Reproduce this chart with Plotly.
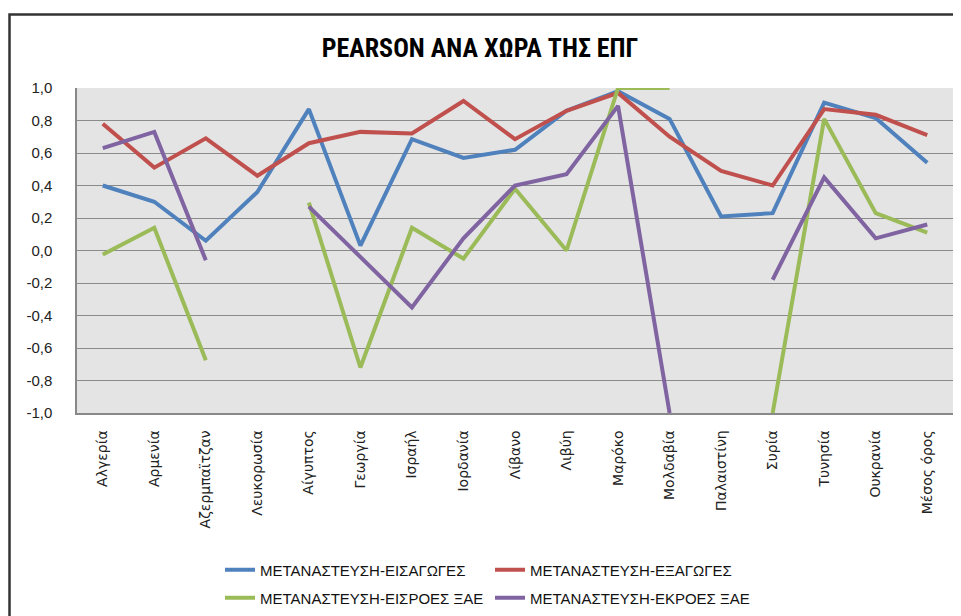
import plotly.graph_objects as go

countries = ["Αλγερία", "Αρμενία", "Αζερμπαϊτζαν", "Λευκορωσία", "Αίγυπτος", "Γεωργία",
             "Ισραήλ", "Ιορδανία", "Λίβανο", "Λιβύη", "Μαρόκο", "Μολδαβία",
             "Παλαιστίνη", "Συρία", "Τυνησία", "Ουκρανία", "Μέσος όρος"]

eisagoges = [0.40, 0.30, 0.06, 0.36, 0.87, 0.03, 0.685, 0.57, 0.62, 0.86, 0.98, 0.81,
             0.21, 0.23, 0.91, 0.815, 0.54]
exagoges = [0.78, 0.51, 0.69, 0.46, 0.66, 0.73, 0.72, 0.92, 0.685, 0.86, 0.97, 0.70,
            0.49, 0.40, 0.87, 0.835, 0.71]
eisroes = [-0.025, 0.14, -0.675, None, 0.295, -0.72, 0.14, -0.05, 0.38, 0.0, 1.0, 1.0,
           None, -1.0, 0.81, 0.23, 0.11]
ekroes = [0.63, 0.73, -0.06, None, 0.27, -0.04, -0.35, 0.075, 0.40, 0.47, 0.89, -1.0,
          None, -0.18, 0.45, 0.075, 0.16]

series_names = ["ΜΕΤΑΝΑΣΤΕΥΣΗ-ΕΙΣΑΓΩΓΕΣ", "ΜΕΤΑΝΑΣΤΕΥΣΗ-ΕΞΑΓΩΓΕΣ",
                "ΜΕΤΑΝΑΣΤΕΥΣΗ-ΕΙΣΡΟΕΣ ΞΑΕ", "ΜΕΤΑΝΑΣΤΕΥΣΗ-ΕΚΡΟΕΣ ΞΑΕ"]
series_vals = [eisagoges, exagoges, eisroes, ekroes]
colors = ["#4F81BD", "#C0504D", "#9BBB59", "#8064A2"]
legends = ["legend", "legend", "legend2", "legend2"]

y_ticks = [1.0, 0.8, 0.6, 0.4, 0.2, 0.0, -0.2, -0.4, -0.6, -0.8, -1.0]
y_labels = ["1,0", "0,8", "0,6", "0,4", "0,2", "0,0", "-0,2", "-0,4", "-0,6", "-0,8", "-1,0"]

fig = go.Figure()
for name, vals, col, lg in zip(series_names, series_vals, colors, legends):
    fig.add_trace(go.Scatter(x=countries, y=vals, name=name, mode="lines",
                             line=dict(color=col, width=4), connectgaps=False,
                             legend=lg))

# page body has an 8px margin, so the figure is drawn 8px smaller and offset
OFF = 8
W, H = 961 - OFF, 616 - OFF
L, R, T, B = 77 - OFF, 961 - 953, 88 - OFF, 616 - 413
pw, ph = W - L - R, H - T - B


def px(x):
    return (x - OFF - L) / pw


def py(y):
    return (H - B - (y - OFF)) / ph


def cx(x):
    return (x - OFF) / W


def cy(y):
    return 1 - (y - OFF) / H


legend_style = dict(orientation="h", xanchor="left", yanchor="middle",
                    xref="container", yref="container",
                    entrywidth=225, font=dict(family="Liberation Sans, sans-serif",
                                              size=15, color="#111"),
                    bgcolor="rgba(0,0,0,0)", itemwidth=30, tracegroupgap=0)

fig.update_layout(
    width=W, height=H,
    margin=dict(l=L, r=R, t=T, b=B),
    paper_bgcolor="white",
    plot_bgcolor="#E4E4E4",
    title=dict(text="<b>PEARSON ΑΝΑ ΧΩΡΑ ΤΗΣ ΕΠΓ</b>", x=cx(480), xanchor="center",
               xref="container", y=cy(48), yanchor="middle",
               font=dict(family="Liberation Sans Narrow, Roboto Condensed, Liberation Sans, sans-serif",
                         size=26, color="black")),
    font=dict(family="Liberation Sans, sans-serif", color="#222"),
    showlegend=True,
    legend=dict(legend_style, x=cx(220), y=cy(570)),
    legend2=dict(legend_style, x=cx(220), y=cy(598)),
    shapes=[dict(type="rect", xref="paper", yref="paper",
                 x0=px(9.5), x1=px(966), y0=py(640), y1=py(14.5),
                 line=dict(color="#333", width=2.5), fillcolor="rgba(0,0,0,0)", layer="below")],
)

fig.update_xaxes(
    type="category", range=[-0.5, len(countries) - 0.5], tickangle=-90, showgrid=False,
    showline=True, linecolor="#888", linewidth=1.5, mirror=False,
    tickfont=dict(family="DejaVu Sans, sans-serif", size=14, color="#222"),
    ticks="", ticklabelstandoff=10,
)
fig.update_yaxes(
    range=[-1.0, 1.0], tickvals=y_ticks, ticktext=y_labels,
    showgrid=True, gridcolor="#8A8A8A", gridwidth=1.2,
    showline=True, linecolor="#888", linewidth=1.5, zeroline=False,
    tickfont=dict(family="Liberation Sans, sans-serif", size=15, color="#222"),
    ticks="", ticklabelstandoff=20,
)

fig.write_html("out.html")
